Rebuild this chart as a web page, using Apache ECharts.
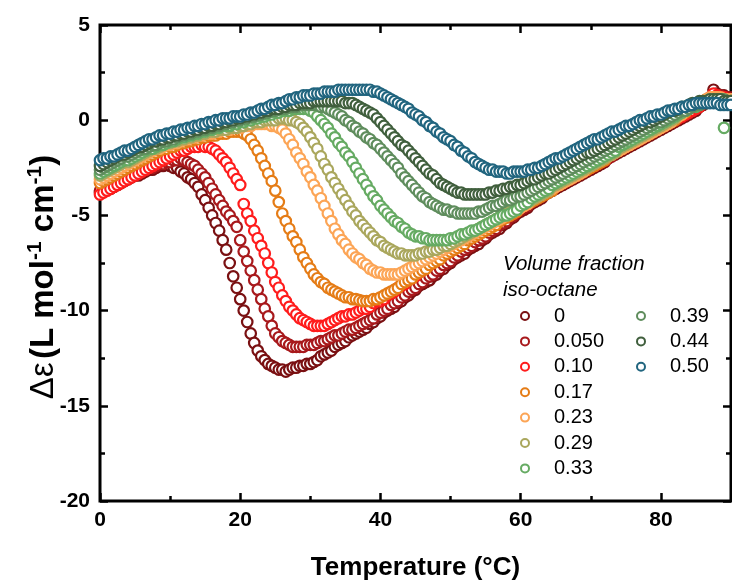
<!DOCTYPE html>
<html><head><meta charset="utf-8">
<script src="https://cdn.jsdelivr.net/npm/echarts@6/dist/echarts.min.js"></script>
<style>html,body{margin:0;padding:0;background:#fff}#c{width:732px;height:586px}</style>
</head><body><div id="c"></div>
<script>
// Temperature (°C), 0.5 °C steps
const temps = [
0,0.5,1,1.5,2,2.5,3,3.5,4,4.5,
5,5.5,6,6.5,7,7.5,8,8.5,9,9.5,
10,10.5,11,11.5,12,12.5,13,13.5,14,14.5,
15,15.5,16,16.5,17,17.5,18,18.5,19,19.5,
20,20.5,21,21.5,22,22.5,23,23.5,24,24.5,
25,25.5,26,26.5,27,27.5,28,28.5,29,29.5,
30,30.5,31,31.5,32,32.5,33,33.5,34,34.5,
35,35.5,36,36.5,37,37.5,38,38.5,39,39.5,
40,40.5,41,41.5,42,42.5,43,43.5,44,44.5,
45,45.5,46,46.5,47,47.5,48,48.5,49,49.5,
50,50.5,51,51.5,52,52.5,53,53.5,54,54.5,
55,55.5,56,56.5,57,57.5,58,58.5,59,59.5,
60,60.5,61,61.5,62,62.5,63,63.5,64,64.5,
65,65.5,66,66.5,67,67.5,68,68.5,69,69.5,
70,70.5,71,71.5,72,72.5,73,73.5,74,74.5,
75,75.5,76,76.5,77,77.5,78,78.5,79,79.5,
80,80.5,81,81.5,82,82.5,83,83.5,84,84.5,
85,85.5,86,86.5,87,87.5,88,88.5,89,89.5,
90];

const fractions = ['0','0.050','0.10','0.17','0.23','0.29','0.33','0.39','0.44','0.50'];
const colors = ['#7a1012','#a8191c','#ff1c1c','#e57c16','#fca556','#aaa75d','#66ab63','#5f8d5d','#405f3d','#21657f'];

const v000 = [
-3.8,-3.7,-3.6,-3.6,-3.5,-3.4,-3.3,-3.2,-3.1,-3.0,
-2.9,-2.9,-2.8,-2.7,-2.6,-2.6,-2.5,-2.4,-2.4,-2.3,
-2.4,-2.5,-2.5,-2.7,-2.8,-3.0,-3.1,-3.3,-3.5,-3.9,
-4.2,-4.6,-5.0,-5.4,-5.8,-6.3,-6.8,-7.5,-8.2,-8.8,
-9.4,-10.0,-10.6,-11.2,-11.7,-12.1,-12.4,-12.6,-12.8,-12.9,
-13.0,-13.1,-13.1,-13.2,-13.1,-13.0,-13.0,-12.9,-12.9,-12.8,
-12.8,-12.7,-12.6,-12.4,-12.3,-12.2,-12.1,-11.9,-11.8,-11.7,
-11.6,-11.4,-11.3,-11.2,-11.1,-11.0,-10.9,-10.7,-10.6,-10.4,
-10.3,-10.1,-10.0,-9.9,-9.8,-9.6,-9.5,-9.3,-9.2,-9.0,
-8.9,-8.7,-8.6,-8.5,-8.4,-8.2,-8.1,-7.9,-7.8,-7.6,
-7.5,-7.3,-7.2,-7.1,-7.0,-6.8,-6.7,-6.6,-6.5,-6.3,
-6.2,-6.0,-5.9,-5.8,-5.7,-5.5,-5.4,-5.2,-5.1,-4.9,
-4.8,-4.7,-4.6,-4.4,-4.3,-4.2,-4.1,-3.9,-3.8,-3.7,
-3.6,-3.5,-3.4,-3.3,-3.2,-3.1,-3.0,-2.9,-2.8,-2.7,
-2.6,-2.5,-2.4,-2.3,-2.2,-2.0,-1.9,-1.8,-1.7,-1.6,
-1.5,-1.4,-1.3,-1.2,-1.1,-1.0,-0.9,-0.8,-0.7,-0.6,
-0.5,-0.4,-0.3,-0.2,-0.1,0.0,0.1,0.2,0.3,0.4,
0.5,0.7,0.8,1.0,1.1,1.6,1.4,1.3,1.3,1.2,
1.2];

const v005 = [
-3.7,-3.6,-3.5,-3.4,-3.4,-3.3,-3.2,-3.1,-3.0,-2.9,
-2.8,-2.8,-2.7,-2.6,-2.5,-2.5,-2.4,-2.3,-2.3,-2.2,
-2.2,-2.1,-2.1,-2.0,-2.1,-2.2,-2.3,-2.4,-2.6,-2.8,
-3.0,-3.3,-3.6,-3.9,-4.2,-4.5,-4.8,-5.0,-5.3,-5.6,
-6.3,-6.9,-7.4,-7.9,-8.4,-8.9,-9.4,-9.9,-10.3,-10.8,
-11.2,-11.4,-11.6,-11.7,-11.8,-11.9,-11.9,-11.9,-11.9,-11.8,
-11.8,-11.8,-11.7,-11.6,-11.6,-11.5,-11.4,-11.3,-11.3,-11.2,
-11.1,-11.0,-11.0,-10.9,-10.8,-10.7,-10.6,-10.5,-10.4,-10.2,
-10.1,-10.0,-9.9,-9.7,-9.6,-9.5,-9.3,-9.2,-9.0,-8.9,
-8.8,-8.6,-8.5,-8.3,-8.2,-8.1,-7.9,-7.8,-7.6,-7.5,
-7.4,-7.2,-7.1,-6.9,-6.8,-6.7,-6.6,-6.4,-6.3,-6.2,
-6.1,-5.9,-5.8,-5.7,-5.5,-5.4,-5.3,-5.1,-5.0,-4.8,
-4.7,-4.6,-4.5,-4.3,-4.2,-4.1,-4.0,-3.8,-3.7,-3.6,
-3.5,-3.4,-3.3,-3.2,-3.1,-3.0,-2.9,-2.8,-2.7,-2.6,
-2.5,-2.4,-2.3,-2.2,-2.1,-2.0,-1.9,-1.7,-1.6,-1.5,
-1.4,-1.3,-1.2,-1.1,-1.0,-0.9,-0.8,-0.7,-0.6,-0.5,
-0.4,-0.3,-0.2,-0.1,0.0,0.1,0.2,0.3,0.4,0.5,
0.6,0.7,0.9,1.0,1.1,1.2,1.3,1.3,1.2,1.2,
1.1];

const v010 = [
-3.9,-3.8,-3.7,-3.6,-3.5,-3.4,-3.3,-3.2,-3.1,-3.0,
-2.9,-2.8,-2.7,-2.6,-2.5,-2.4,-2.3,-2.2,-2.1,-2.0,
-1.9,-1.8,-1.7,-1.6,-1.6,-1.5,-1.4,-1.4,-1.4,-1.3,
-1.4,-1.4,-1.5,-1.6,-1.8,-2.0,-2.2,-2.5,-2.8,-3.1,
-3.4,-4.4,-4.9,-5.3,-5.8,-6.2,-6.6,-7.0,-7.5,-8.0,
-8.5,-8.8,-9.2,-9.5,-9.8,-10.0,-10.2,-10.4,-10.5,-10.6,
-10.7,-10.8,-10.8,-10.8,-10.8,-10.7,-10.6,-10.5,-10.4,-10.3,
-10.3,-10.2,-10.2,-10.1,-10.0,-9.9,-9.9,-9.8,-9.6,-9.5,
-9.5,-9.4,-9.2,-9.1,-9.0,-8.8,-8.7,-8.6,-8.4,-8.3,
-8.2,-8.0,-7.9,-7.7,-7.6,-7.5,-7.3,-7.2,-7.1,-7.0,
-6.9,-6.7,-6.6,-6.5,-6.4,-6.3,-6.1,-6.0,-5.9,-5.8,
-5.7,-5.6,-5.5,-5.4,-5.3,-5.1,-5.0,-4.9,-4.8,-4.7,
-4.6,-4.5,-4.4,-4.3,-4.1,-4.0,-3.9,-3.8,-3.7,-3.6,
-3.5,-3.4,-3.3,-3.2,-3.1,-3.0,-2.9,-2.8,-2.7,-2.6,
-2.5,-2.4,-2.3,-2.2,-2.1,-1.9,-1.8,-1.7,-1.6,-1.5,
-1.4,-1.3,-1.2,-1.1,-1.0,-0.9,-0.8,-0.7,-0.6,-0.5,
-0.4,-0.3,-0.2,-0.1,0.0,0.1,0.2,0.3,0.4,0.5,
0.6,0.7,0.9,1.0,1.2,1.4,1.3,1.2,1.2,1.1,
1.1];

const v017 = [
-3.3,-3.2,-3.1,-3.0,-2.9,-2.8,-2.7,-2.6,-2.5,-2.4,
-2.3,-2.2,-2.1,-2.0,-1.9,-1.8,-1.7,-1.6,-1.5,-1.5,
-1.4,-1.4,-1.3,-1.2,-1.2,-1.1,-1.1,-1.0,-1.0,-0.9,
-0.9,-0.8,-0.8,-0.8,-0.7,-0.7,-0.7,-0.6,-0.6,-0.6,
-0.6,-0.7,-0.8,-1.0,-1.3,-1.6,-2.0,-2.4,-2.8,-3.2,
-3.7,-4.3,-4.9,-5.3,-5.7,-6.1,-6.4,-6.8,-7.2,-7.5,
-7.8,-8.1,-8.3,-8.5,-8.6,-8.8,-8.9,-9.0,-9.1,-9.2,
-9.3,-9.3,-9.4,-9.4,-9.45,-9.5,-9.5,-9.5,-9.4,-9.4,
-9.3,-9.2,-9.1,-9.0,-8.9,-8.8,-8.6,-8.5,-8.4,-8.3,
-8.1,-8.0,-7.9,-7.8,-7.6,-7.5,-7.4,-7.3,-7.1,-7.0,
-6.9,-6.8,-6.7,-6.6,-6.5,-6.3,-6.2,-6.1,-6.0,-5.9,
-5.8,-5.7,-5.6,-5.5,-5.3,-5.2,-5.1,-5.0,-4.9,-4.8,
-4.6,-4.5,-4.4,-4.3,-4.2,-4.1,-4.0,-3.9,-3.8,-3.7,
-3.5,-3.4,-3.3,-3.2,-3.1,-3.0,-2.9,-2.8,-2.7,-2.6,
-2.5,-2.4,-2.3,-2.2,-2.1,-1.9,-1.8,-1.7,-1.6,-1.5,
-1.4,-1.3,-1.2,-1.1,-1.0,-0.9,-0.8,-0.7,-0.6,-0.5,
-0.4,-0.3,-0.2,-0.1,0.0,0.2,0.3,0.4,0.6,0.7,
0.8,0.9,1.0,1.1,1.1,1.2,1.2,1.1,1.1,1.0,
1.0];

const v023 = [
-3.1,-3.0,-2.9,-2.8,-2.7,-2.6,-2.5,-2.4,-2.3,-2.2,
-2.1,-2.0,-1.9,-1.8,-1.7,-1.6,-1.5,-1.5,-1.4,-1.3,
-1.3,-1.2,-1.2,-1.1,-1.0,-1.0,-0.9,-0.9,-0.8,-0.8,
-0.7,-0.7,-0.7,-0.6,-0.6,-0.5,-0.5,-0.5,-0.4,-0.4,
-0.4,-0.3,-0.3,-0.3,-0.2,-0.2,-0.2,-0.2,-0.2,-0.3,
-0.3,-0.4,-0.5,-0.7,-1.0,-1.3,-1.7,-2.0,-2.3,-2.7,
-3.0,-3.4,-3.7,-4.1,-4.5,-4.9,-5.3,-5.7,-6.0,-6.3,
-6.5,-6.8,-7.0,-7.2,-7.3,-7.5,-7.6,-7.8,-7.9,-8.0,
-8.0,-8.1,-8.1,-8.1,-8.1,-8.1,-8.0,-7.9,-7.8,-7.7,
-7.6,-7.5,-7.4,-7.3,-7.2,-7.1,-7.0,-6.9,-6.8,-6.7,
-6.6,-6.5,-6.4,-6.3,-6.2,-6.1,-6.0,-5.9,-5.8,-5.7,
-5.6,-5.5,-5.4,-5.3,-5.2,-5.1,-5.0,-4.9,-4.8,-4.7,
-4.6,-4.5,-4.4,-4.2,-4.1,-4.0,-3.9,-3.8,-3.7,-3.6,
-3.5,-3.4,-3.3,-3.2,-3.1,-3.0,-2.9,-2.8,-2.7,-2.5,
-2.4,-2.3,-2.2,-2.1,-2.0,-1.9,-1.8,-1.7,-1.6,-1.5,
-1.4,-1.3,-1.2,-1.1,-1.0,-0.9,-0.8,-0.7,-0.6,-0.5,
-0.4,-0.3,-0.2,-0.1,0.1,0.2,0.3,0.5,0.6,0.7,
0.8,0.9,1.0,1.1,1.2,1.2,1.2,1.2,1.1,1.1,
1.1];

const v029 = [
-2.9,-2.8,-2.7,-2.6,-2.5,-2.4,-2.3,-2.2,-2.2,-2.1,
-2.0,-1.9,-1.8,-1.7,-1.6,-1.5,-1.5,-1.4,-1.3,-1.2,
-1.2,-1.1,-1.1,-1.0,-1.0,-0.9,-0.9,-0.8,-0.8,-0.7,
-0.7,-0.6,-0.6,-0.6,-0.5,-0.5,-0.5,-0.4,-0.4,-0.4,
-0.3,-0.3,-0.2,-0.2,-0.1,-0.1,-0.1,0.0,0.0,0.0,
0.0,0.1,0.1,0.1,0.0,0.0,-0.1,-0.2,-0.4,-0.6,
-0.9,-1.2,-1.5,-1.9,-2.3,-2.6,-3.0,-3.3,-3.6,-3.9,
-4.2,-4.5,-4.8,-5.0,-5.3,-5.5,-5.7,-5.9,-6.1,-6.3,
-6.4,-6.6,-6.7,-6.8,-6.9,-7.0,-7.0,-7.1,-7.1,-7.1,
-7.1,-7.0,-7.0,-6.9,-6.9,-6.8,-6.8,-6.7,-6.6,-6.6,
-6.5,-6.4,-6.3,-6.2,-6.1,-6.0,-5.9,-5.8,-5.7,-5.6,
-5.5,-5.4,-5.3,-5.2,-5.1,-5.0,-4.9,-4.8,-4.7,-4.6,
-4.5,-4.4,-4.3,-4.2,-4.1,-4.0,-3.9,-3.8,-3.7,-3.5,
-3.4,-3.3,-3.2,-3.1,-3.0,-2.9,-2.8,-2.7,-2.6,-2.5,
-2.4,-2.3,-2.2,-2.1,-2.0,-1.9,-1.8,-1.7,-1.5,-1.4,
-1.3,-1.2,-1.1,-1.0,-0.9,-0.8,-0.7,-0.6,-0.5,-0.4,
-0.3,-0.2,-0.1,0.0,0.1,0.3,0.4,0.5,0.6,0.7,
0.8,0.9,1.0,1.0,1.1,1.1,1.1,1.1,1.0,1.0,
1.0];

const v033 = [
-2.8,-2.7,-2.6,-2.5,-2.4,-2.3,-2.2,-2.1,-2.1,-2.0,
-1.9,-1.8,-1.7,-1.6,-1.5,-1.5,-1.4,-1.3,-1.3,-1.2,
-1.1,-1.1,-1.0,-0.9,-0.9,-0.8,-0.8,-0.7,-0.7,-0.6,
-0.6,-0.5,-0.5,-0.4,-0.4,-0.3,-0.3,-0.3,-0.2,-0.2,
-0.1,-0.1,0.0,0.0,0.1,0.1,0.2,0.2,0.3,0.3,
0.4,0.4,0.5,0.5,0.5,0.6,0.6,0.6,0.6,0.6,
0.5,0.4,0.2,0.0,-0.2,-0.4,-0.7,-0.9,-1.2,-1.4,
-1.7,-1.9,-2.2,-2.5,-2.8,-3.1,-3.4,-3.7,-4.0,-4.2,
-4.5,-4.7,-4.9,-5.1,-5.3,-5.4,-5.6,-5.7,-5.9,-6.0,
-6.1,-6.1,-6.2,-6.2,-6.3,-6.3,-6.3,-6.3,-6.3,-6.3,
-6.2,-6.2,-6.1,-6.0,-6.0,-5.9,-5.8,-5.8,-5.7,-5.6,
-5.5,-5.4,-5.3,-5.2,-5.1,-5.0,-5.0,-4.9,-4.8,-4.7,
-4.5,-4.4,-4.3,-4.1,-4.0,-3.9,-3.8,-3.7,-3.6,-3.4,
-3.3,-3.2,-3.1,-3.0,-2.9,-2.8,-2.7,-2.6,-2.5,-2.4,
-2.3,-2.2,-2.1,-2.0,-1.9,-1.8,-1.7,-1.6,-1.4,-1.3,
-1.2,-1.1,-1.0,-0.9,-0.8,-0.7,-0.6,-0.5,-0.4,-0.3,
-0.2,-0.1,0.0,0.1,0.2,0.3,0.4,0.5,0.6,0.7,
0.7,0.8,0.9,1.0,1.0,1.0,1.0,0.9,-0.4,0.9,
0.9];

const v039 = [
-2.6,-2.5,-2.4,-2.3,-2.2,-2.1,-2.0,-1.9,-1.9,-1.8,
-1.7,-1.6,-1.5,-1.5,-1.4,-1.3,-1.3,-1.2,-1.1,-1.1,
-1.0,-1.0,-0.9,-0.8,-0.8,-0.7,-0.7,-0.6,-0.6,-0.5,
-0.5,-0.4,-0.4,-0.3,-0.3,-0.2,-0.2,-0.1,-0.1,0.0,
0.0,0.1,0.1,0.2,0.2,0.3,0.3,0.4,0.4,0.5,
0.5,0.6,0.6,0.6,0.7,0.7,0.7,0.8,0.8,0.8,
0.8,0.8,0.8,0.7,0.7,0.6,0.5,0.4,0.3,0.2,
0.0,-0.1,-0.3,-0.4,-0.6,-0.7,-0.9,-1.0,-1.2,-1.3,
-1.5,-1.7,-1.9,-2.1,-2.3,-2.5,-2.8,-3.0,-3.2,-3.4,
-3.6,-3.8,-4.0,-4.1,-4.3,-4.4,-4.5,-4.6,-4.7,-4.7,
-4.8,-4.8,-4.9,-4.9,-4.9,-4.9,-4.9,-4.9,-4.8,-4.8,
-4.7,-4.6,-4.5,-4.5,-4.4,-4.3,-4.2,-4.2,-4.1,-4.0,
-4.0,-3.9,-3.8,-3.7,-3.6,-3.5,-3.4,-3.3,-3.2,-3.1,
-3.0,-2.9,-2.8,-2.7,-2.6,-2.5,-2.4,-2.3,-2.2,-2.1,
-2.0,-1.9,-1.8,-1.7,-1.6,-1.5,-1.4,-1.3,-1.2,-1.1,
-1.0,-0.9,-0.8,-0.7,-0.6,-0.5,-0.4,-0.3,-0.2,-0.1,
-0.1,0.0,0.1,0.2,0.3,0.4,0.5,0.5,0.6,0.7,
0.8,0.8,0.9,0.9,1.0,1.0,1.0,1.1,1.1,1.0,
1.0];

const v044 = [
-2.4,-2.3,-2.2,-2.1,-2.0,-1.9,-1.8,-1.8,-1.7,-1.6,
-1.5,-1.4,-1.4,-1.3,-1.2,-1.1,-1.1,-1.0,-1.0,-0.9,
-0.9,-0.8,-0.8,-0.7,-0.7,-0.6,-0.6,-0.5,-0.5,-0.4,
-0.4,-0.3,-0.3,-0.2,-0.2,-0.1,-0.1,0.0,0.0,0.1,
0.1,0.2,0.2,0.3,0.3,0.4,0.4,0.5,0.5,0.6,
0.6,0.6,0.7,0.7,0.8,0.8,0.8,0.9,0.9,0.9,
0.9,1.0,1.0,1.0,1.0,1.0,1.0,1.0,1.0,1.0,
0.9,0.9,0.9,0.8,0.7,0.6,0.5,0.4,0.3,0.1,
-0.1,-0.3,-0.5,-0.7,-0.9,-1.1,-1.3,-1.4,-1.6,-1.8,
-2.0,-2.2,-2.4,-2.6,-2.8,-2.9,-3.1,-3.3,-3.4,-3.5,
-3.6,-3.7,-3.8,-3.8,-3.9,-3.9,-3.9,-3.9,-3.9,-3.9,
-3.9,-3.8,-3.8,-3.7,-3.7,-3.6,-3.6,-3.5,-3.5,-3.4,
-3.4,-3.3,-3.2,-3.1,-3.1,-3.0,-2.9,-2.8,-2.8,-2.7,
-2.6,-2.5,-2.4,-2.3,-2.2,-2.1,-2.0,-1.9,-1.8,-1.7,
-1.7,-1.6,-1.5,-1.4,-1.3,-1.2,-1.1,-1.0,-0.9,-0.8,
-0.7,-0.6,-0.5,-0.4,-0.3,-0.2,-0.1,-0.1,0.0,0.1,
0.2,0.3,0.4,0.5,0.5,0.6,0.7,0.7,0.8,0.9,
0.9,1.0,1.0,1.0,1.1,1.1,1.1,1.1,1.0,1.0,
1.0];

const v050 = [
-2.1,-2.0,-2.0,-1.9,-1.9,-1.8,-1.7,-1.6,-1.6,-1.5,
-1.4,-1.3,-1.2,-1.1,-1.0,-1.0,-0.9,-0.8,-0.8,-0.7,
-0.7,-0.6,-0.6,-0.5,-0.5,-0.4,-0.4,-0.3,-0.3,-0.2,
-0.2,-0.1,-0.1,0.0,0.0,0.1,0.1,0.1,0.2,0.2,
0.2,0.3,0.3,0.4,0.4,0.5,0.6,0.6,0.7,0.8,
0.8,0.9,0.9,1.0,1.1,1.1,1.2,1.2,1.3,1.3,
1.3,1.4,1.4,1.4,1.5,1.5,1.5,1.5,1.6,1.6,
1.6,1.6,1.6,1.6,1.6,1.6,1.6,1.6,1.5,1.5,
1.4,1.3,1.2,1.1,1.0,0.9,0.8,0.7,0.6,0.4,
0.3,0.2,0.0,-0.1,-0.3,-0.4,-0.6,-0.7,-0.9,-1.0,
-1.1,-1.3,-1.4,-1.6,-1.7,-1.9,-2.0,-2.2,-2.3,-2.4,
-2.5,-2.6,-2.6,-2.7,-2.7,-2.7,-2.8,-2.8,-2.7,-2.7,
-2.7,-2.7,-2.6,-2.6,-2.5,-2.5,-2.4,-2.3,-2.2,-2.1,
-2.0,-2.0,-1.9,-1.8,-1.7,-1.6,-1.5,-1.4,-1.3,-1.2,
-1.1,-1.0,-1.0,-0.9,-0.8,-0.7,-0.6,-0.6,-0.5,-0.4,
-0.3,-0.3,-0.2,-0.1,0.0,0.0,0.1,0.2,0.2,0.3,
0.3,0.4,0.5,0.5,0.6,0.6,0.7,0.7,0.8,0.8,
0.9,0.9,0.9,0.9,0.9,0.9,0.9,0.8,0.8,0.8,
0.8];

const seriesValues = [v000, v005, v010, v017, v023, v029, v033, v039, v044, v050];
const xTicks = [0, 20, 40, 60, 80];
const yTicks = [-20, -15, -10, -5, 0, 5];

const FONT = 'Arial, "Liberation Sans", Helvetica, sans-serif';
const chart = echarts.init(document.getElementById('c'), null, {renderer: 'canvas'});

const series = seriesValues.map((vals, k) => ({
  name: fractions[k],
  type: 'scatter',
  symbol: 'circle',
  symbolSize: 10.5,
  itemStyle: {color: '#ffffff', borderColor: colors[k], borderWidth: 2.2, opacity: 1},
  emphasis: {disabled: true},
  data: temps.map((t, i) => [t, vals[i]])
}));

function legendCfg(names, left) {
  return {
    data: names.map(n => ({name: n, itemStyle: {color: '#fff', borderColor: colors[fractions.indexOf(n)], borderWidth: 2}})),
    orient: 'vertical', left: left, top: 301,
    itemWidth: 48, itemHeight: 8, itemGap: 5.4,
    selectedMode: false, icon: 'circle',
    textStyle: {fontSize: 20, lineHeight: 20, fontFamily: FONT, color: '#000'}
  };
}

const tickLine = {color: '#000', width: 2.5};
const labelStyle = {fontSize: 21, fontWeight: 'bold', fontFamily: FONT, color: '#000'};
const noLine = {show: false, onZero: false};

chart.setOption({
  animation: false,
  backgroundColor: '#fff',
  grid: {left: 100, right: 1, top: 25, bottom: 82, show: true, borderColor: '#000', borderWidth: 3, backgroundColor: 'transparent'},
  xAxis: [
    {type: 'value', position: 'bottom', min: xTicks[0], max: 90, interval: 20,
     axisLine: noLine, splitLine: {show: false},
     axisTick: {show: true, inside: true, length: 8, lineStyle: tickLine},
     axisLabel: Object.assign({margin: 9, showMaxLabel: false, formatter: v => (xTicks.indexOf(v) >= 0 ? String(v) : '')}, labelStyle),
     name: 'Temperature (°C)', nameLocation: 'middle', nameGap: 54,
     nameTextStyle: {fontSize: 26, fontWeight: 'bold', fontFamily: FONT, color: '#000'}},
    {type: 'value', position: 'bottom', min: 0, max: 90, interval: 10,
     axisLine: noLine, splitLine: {show: false},
     axisTick: {show: true, inside: true, length: 5, lineStyle: tickLine}, axisLabel: {show: false}},
    {type: 'value', position: 'top', min: 0, max: 90, interval: 20,
     axisLine: noLine, splitLine: {show: false},
     axisTick: {show: true, inside: true, length: 8, lineStyle: tickLine}, axisLabel: {show: false}},
    {type: 'value', position: 'top', min: 0, max: 90, interval: 10,
     axisLine: noLine, splitLine: {show: false},
     axisTick: {show: true, inside: true, length: 5, lineStyle: tickLine}, axisLabel: {show: false}}
  ],
  yAxis: [
    {type: 'value', position: 'left', min: yTicks[0], max: yTicks[yTicks.length - 1], interval: 5,
     axisLine: noLine, splitLine: {show: false},
     axisTick: {show: true, inside: true, length: 8, lineStyle: tickLine},
     minorTick: {show: true, splitNumber: 2, length: 5, lineStyle: tickLine},
     axisLabel: Object.assign({margin: 10}, labelStyle)},
    {type: 'value', position: 'right', min: -20, max: 5, interval: 5,
     axisLine: noLine, splitLine: {show: false},
     axisTick: {show: true, inside: true, length: 8, lineStyle: tickLine},
     minorTick: {show: true, splitNumber: 2, length: 5, lineStyle: tickLine},
     axisLabel: {show: false}}
  ],
  legend: [legendCfg(fractions.slice(0, 7), 515), legendCfg(fractions.slice(7), 631)],
  graphic: [
    {type: 'text', left: 503, top: 251, silent: true,
     style: {text: 'Volume fraction\niso-octane', fontSize: 20.5, lineHeight: 26, fontStyle: 'italic', fontFamily: FONT, fill: '#000'}},
    {type: 'text', x: 44, y: 277, rotation: Math.PI / 2, silent: true,
     style: {
       text: '{a|Δε} {b|(L mol}{s|-1}{b| cm}{s|-1}{b|)}',
       align: 'center', verticalAlign: 'middle',
       rich: {
         a: {fontSize: 33, fontFamily: FONT, fontWeight: 'normal', fill: '#000', lineHeight: 38},
         b: {fontSize: 33, fontFamily: FONT, fontWeight: 'bold', fill: '#000', lineHeight: 38},
         s: {fontSize: 21, fontFamily: FONT, fontWeight: 'bold', fill: '#000', lineHeight: 21, verticalAlign: 'top'}
       }
     }}
  ],
  series: series
});
</script>
</body></html>
